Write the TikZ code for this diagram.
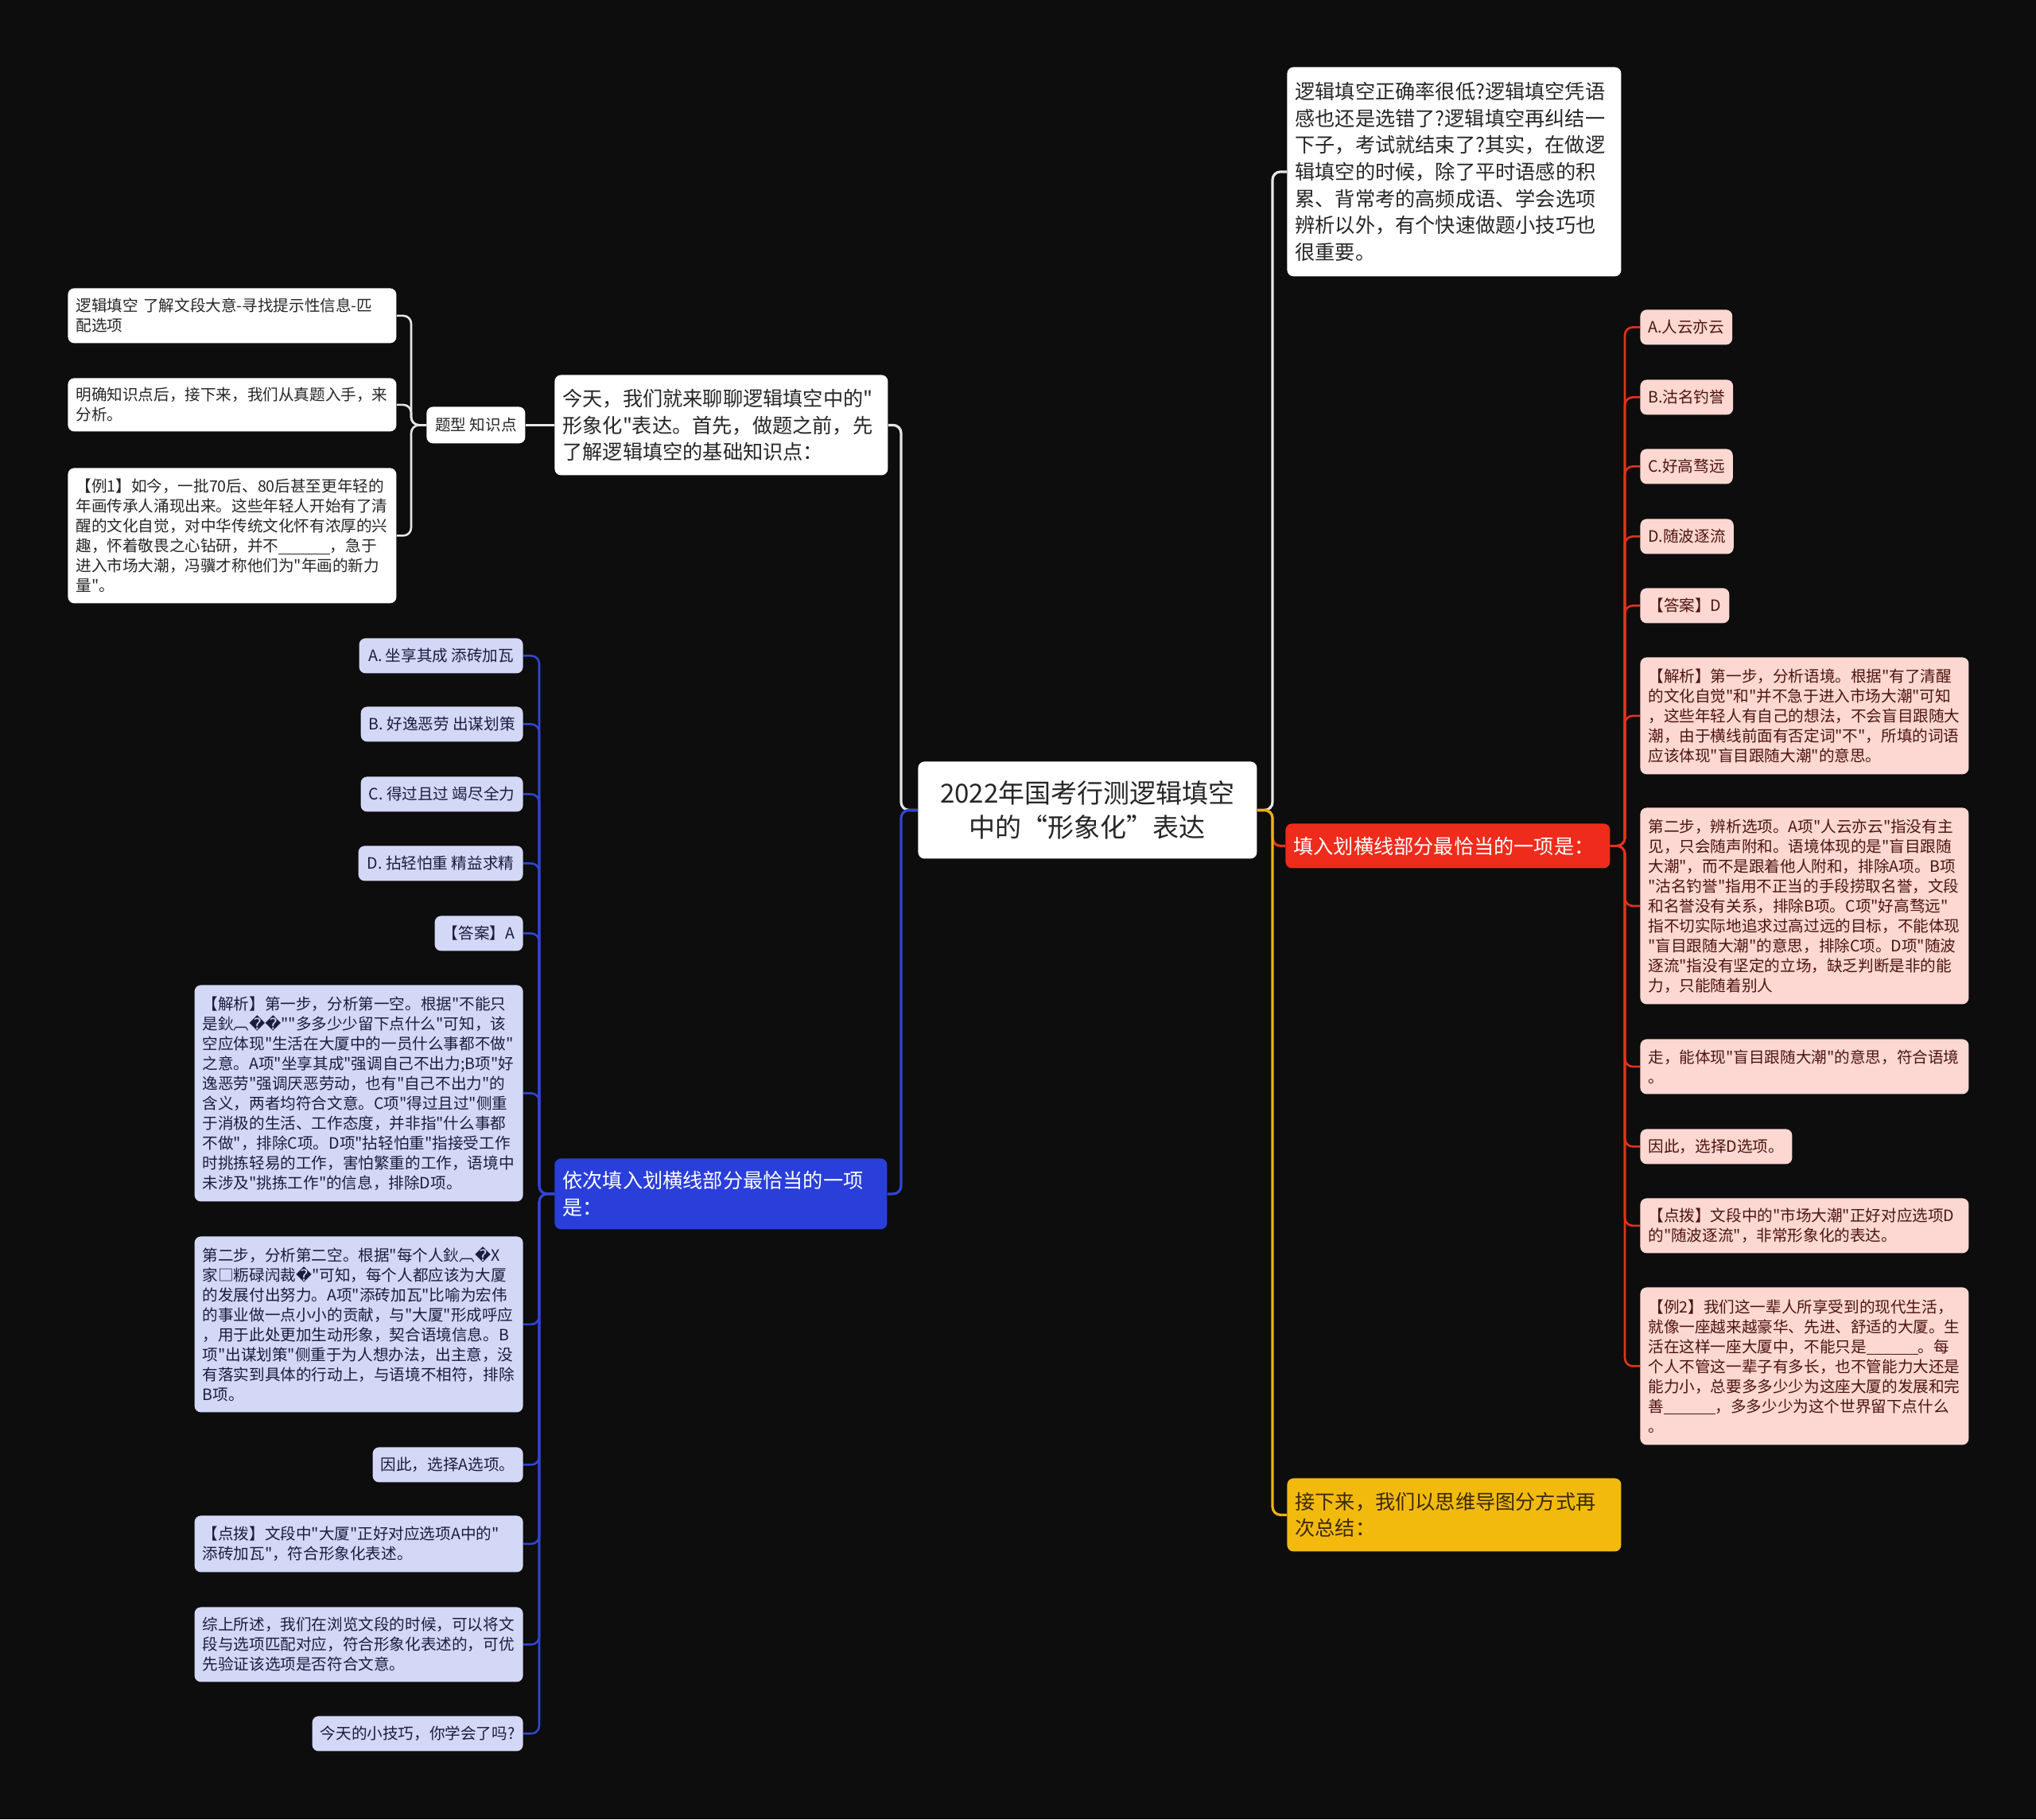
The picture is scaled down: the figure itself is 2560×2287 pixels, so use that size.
\documentclass[tikz,border=0pt]{standalone}
\usepackage{fontspec}
\setmainfont{Noto Sans CJK SC}[Ligatures=TeXOff]
\newfontfamily\djv{DejaVu Sans}
\definecolor{bgc}{HTML}{0D0D0D}
\definecolor{wtext}{HTML}{262626}
\definecolor{lavf}{HTML}{D4D8F7}
\definecolor{lavt}{HTML}{1B1D3D}
\definecolor{pinkf}{HTML}{FDD8D2}
\definecolor{pinkt}{HTML}{4D1410}
\definecolor{bluef}{HTML}{2A3FD9}
\definecolor{redf}{HTML}{EF2B1C}
\definecolor{yelf}{HTML}{F3BA0E}
\definecolor{yelt}{HTML}{3B2A05}
\definecolor{wl}{HTML}{E6E6E6}
\definecolor{bl}{HTML}{3146D0}
\definecolor{yl}{HTML}{E9B413}
\definecolor{rl}{HTML}{E4321F}
\newcommand\myblank{\rule[-1.5pt]{3.3em}{0.45pt}}
\newcommand\repl{{\djv\char"FFFD}}
\begin{document}
\begin{tikzpicture}[x=0.5pt,y=-0.5pt,
  base/.style={rounded corners=4pt, inner xsep=5pt, inner ysep=0pt, anchor=north west, align=left},
  lvone/.style={base, font=\fontsize{12.6}{16.8}\selectfont},
  small/.style={base, font=\fontsize{9.8}{12.5}\selectfont},
  wfill/.style={fill=white, text=wtext},
  lfill/.style={fill=lavf, text=lavt},
  pfill/.style={fill=pinkf, text=pinkt},
  one/.style={align=center, minimum height=22pt},
  conn/.style={rounded corners=5pt, line width=1.6pt},
  conn2/.style={rounded corners=5pt, line width=1.3pt},
  wline/.style={conn, draw=wl},
  bline/.style={conn, draw=bl},
  yline/.style={conn, draw=yl},
  rline/.style={conn, draw=rl},
  wline2/.style={conn2, draw=wl},
  bline2/.style={conn2, draw=bl},
  rline2/.style={conn2, draw=rl}
]
\useasboundingbox (0,0) rectangle (2560,2287);
\fill[bgc] (0,0) rectangle (2560,2287);

\coordinate (ltx) at (1133,0);
\coordinate (wtx) at (517,0);
\coordinate (btx) at (678,0);
\coordinate (rtx) at (1600,0);
\coordinate (prx) at (2043,0);

% center
\node[base, fill=white, text=wtext, font=\fontsize{16.5}{21.5}\selectfont, align=center, text width=203pt, minimum height=61pt] (ctr) at (1154,957) {2022年国考行测逻辑填空\\中的“形象化”表达};

% level one
\node[lvone, wfill, text width=199.5pt, minimum height=63pt] (today) at (697,471) {今天，我们就来聊聊逻辑填空中的"\\形象化"表达。首先，做题之前，先\\了解逻辑填空的基础知识点：};
\node[lvone, fill=bluef, text=white, text width=199pt, minimum height=44.5pt] (yici) at (697,1456) {依次填入划横线部分最恰当的一项\\是：};
\node[lvone, wfill, text width=200pt, minimum height=131.5pt] (topr) at (1618,84) {逻辑填空正确率很低?逻辑填空凭语\\感也还是选错了?逻辑填空再纠结一\\下子，考试就结束了?其实，在做逻\\辑填空的时候，除了平时语感的积\\累、背常考的高频成语、学会选项\\辨析以外，有个快速做题小技巧也\\很重要。};
\node[lvone, fill=redf, text=white, text width=194pt, minimum height=28pt] (redn) at (1616,1035) {填入划横线部分最恰当的一项是：};
\node[lvone, fill=yelf, text=yelt, text width=200pt, minimum height=46pt] (yel) at (1618,1858) {接下来，我们以思维导图分方式再\\次总结：};

% white group
\node[small, wfill, one, minimum width=62pt, minimum height=23pt] (tixing) at (536,511) {题型 知识点};
\node[small, wfill, text width=196.5pt, minimum height=34.5pt] (w1) at (85,362) {逻辑填空 了解文段大意-寻找提示性信息-匹\\配选项};
\node[small, wfill, text width=196.5pt, minimum height=33.5pt] (w2) at (85,475) {明确知识点后，接下来，我们从真题入手，来\\分析。};
\node[small, wfill, text width=196.5pt, minimum height=85pt] (w3) at (85,588) {【例1】如今，一批70后、80后甚至更年轻的\\年画传承人涌现出来。这些年轻人开始有了清\\醒的文化自觉，对中华传统文化怀有浓厚的兴\\趣，怀着敬畏之心钻研，并不\myblank，急于\\进入市场大潮，冯骥才称他们为"年画的新力\\量"。};

% blue group
\node[small, lfill, one, anchor=north east, minimum width=103pt] (b1) at (658,802) {A. 坐享其成 添砖加瓦};
\node[small, lfill, one, anchor=north east, minimum width=101.5pt] (b2) at (658,888) {B. 好逸恶劳 出谋划策};
\node[small, lfill, one, anchor=north east, minimum width=102pt] (b3) at (658,976) {C. 得过且过 竭尽全力};
\node[small, lfill, one, anchor=north east, minimum width=103.5pt] (b4) at (658,1063) {D. 拈轻怕重 精益求精};
\node[small, lfill, one, anchor=north east, minimum width=55.5pt] (b5) at (658,1151) {【答案】A};
\node[small, lfill, anchor=north east, text width=196.5pt, minimum height=136pt] (b6) at (658,1238) {【解析】第一步，分析第一空。根据"不能只\\是鈥︹\repl\repl""多多少少留下点什么"可知，该\\空应体现"生活在大厦中的一员什么事都不做"\\之意。A项"坐享其成"强调自己不出力;B项"好\\逸恶劳"强调厌恶劳动，也有"自己不出力"的\\含义，两者均符合文意。C项"得过且过"侧重\\于消极的生活、工作态度，并非指"什么事都\\不做"，排除C项。D项"拈轻怕重"指接受工作\\时挑拣轻易的工作，害怕繁重的工作，语境中\\未涉及"挑拣工作"的信息，排除D项。};
\node[small, lfill, anchor=north east, text width=196.5pt, minimum height=110.5pt] (b7) at (658,1554) {第二步，分析第二空。根据"每个人鈥︹\repl X\\家□粝碌闶裁\repl"可知，每个人都应该为大厦\\的发展付出努力。A项"添砖加瓦"比喻为宏伟\\的事业做一点小小的贡献，与"大厦"形成呼应\\，用于此处更加生动形象，契合语境信息。B\\项"出谋划策"侧重于为人想办法，出主意，没\\有落实到具体的行动上，与语境不相符，排除\\B项。};
\node[small, lfill, one, anchor=north east, minimum width=94.5pt] (b8) at (658,1819) {因此，选择A选项。};
\node[small, lfill, anchor=north east, text width=196.5pt, minimum height=35.5pt] (b9) at (658,1905) {【点拨】文段中"大厦"正好对应选项A中的"\\添砖加瓦"，符合形象化表述。};
\node[small, lfill, anchor=north east, text width=196.5pt, minimum height=47pt] (b10) at (658,2020) {综上所述，我们在浏览文段的时候，可以将文\\段与选项匹配对应，符合形象化表述的，可优\\先验证该选项是否符合文意。};
\node[small, lfill, one, anchor=north east, minimum width=132.5pt] (b11) at (658,2157) {今天的小技巧，你学会了吗?};

% pink group
\node[small, pfill, one, minimum width=57.5pt] (p1) at (2062,389) {A.人云亦云};
\node[small, pfill, one, minimum width=57.5pt] (p2) at (2062,477) {B.沽名钓誉};
\node[small, pfill, one, minimum width=57.5pt] (p3) at (2062,564) {C.好高骛远};
\node[small, pfill, one, minimum width=58.5pt] (p4) at (2062,652) {D.随波逐流};
\node[small, pfill, one, minimum width=56pt] (p5) at (2062,739) {【答案】D};
\node[small, pfill, text width=196.5pt, minimum height=73.5pt] (p6) at (2062,826) {【解析】第一步，分析语境。根据"有了清醒\\的文化自觉"和"并不急于进入市场大潮"可知\\，这些年轻人有自己的想法，不会盲目跟随大\\潮，由于横线前面有否定词"不"，所填的词语\\应该体现"盲目跟随大潮"的意思。};
\node[small, pfill, text width=196.5pt, minimum height=123.5pt] (p7) at (2062,1015) {第二步，辨析选项。A项"人云亦云"指没有主\\见，只会随声附和。语境体现的是"盲目跟随\\大潮"，而不是跟着他人附和，排除A项。B项\\"沽名钓誉"指用不正当的手段捞取名誉，文段\\和名誉没有关系，排除B项。C项"好高骛远"\\指不切实际地追求过高过远的目标，不能体现\\"盲目跟随大潮"的意思，排除C项。D项"随波\\逐流"指没有坚定的立场，缺乏判断是非的能\\力，只能随着别人};
\node[small, pfill, text width=196.5pt, minimum height=34.5pt] (p8) at (2062,1306) {走，能体现"盲目跟随大潮"的意思，符合语境\\。};
\node[small, pfill, one, minimum width=95.5pt] (p9) at (2062,1419) {因此，选择D选项。};
\node[small, pfill, text width=196.5pt, minimum height=34.5pt] (p10) at (2062,1506) {【点拨】文段中的"市场大潮"正好对应选项D\\的"随波逐流"，非常形象化的表达。};
\node[small, pfill, text width=196.5pt, minimum height=99pt] (p11) at (2062,1618) {【例2】我们这一辈人所享受到的现代生活，\\就像一座越来越豪华、先进、舒适的大厦。生\\活在这样一座大厦中，不能只是\myblank。每\\个人不管这一辈子有多长，也不管能力大还是\\能力小，总要多多少少为这座大厦的发展和完\\善\myblank，多多少少为这个世界留下点什么\\。};

% connectors
\draw[wline] (ctr.west) -- (ctr.west -| ltx) |- (today.east);
\draw[bline] (ctr.west) -- (ctr.west -| ltx) |- (yici.east);
\draw[wline2] (today.west) -- (tixing.east);
\foreach \n in {w1,w2,w3}
  \draw[wline2] (tixing.west) -- (tixing.west -| wtx) |- (\n.east);
\foreach \i in {1,...,11}
  \draw[bline2] (yici.west) -- (yici.west -| btx) |- (b\i.east);
\draw[wline] (ctr.east) -- (ctr.east -| rtx) |- (topr.west);
\draw[rline] (ctr.east) -- (ctr.east -| rtx) |- (redn.west);
\draw[yline] (ctr.east) -- (ctr.east -| rtx) |- (yel.west);
\foreach \i in {1,...,11}
  \draw[rline2] (redn.east) -- (redn.east -| prx) |- (p\i.west);
\end{tikzpicture}
\end{document}
